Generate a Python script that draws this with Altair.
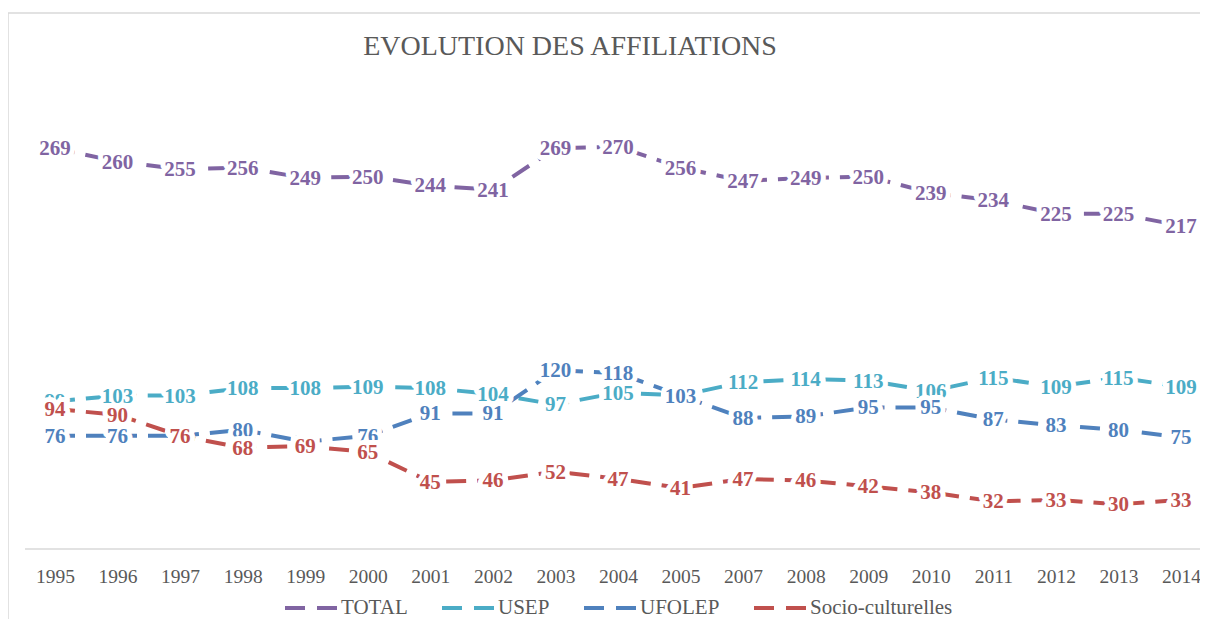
import altair as alt
import pandas as pd

years = ["1995", "1996", "1997", "1998", "1999", "2000", "2001", "2002", "2003", "2004",
         "2005", "2007", "2008", "2009", "2010", "2011", "2012", "2013", "2014"]
total = [269, 260, 255, 256, 249, 250, 244, 241, 269, 270, 256, 247, 249, 250, 239, 234, 225, 225, 217]
usep = [99, 103, 103, 108, 108, 109, 108, 104, 97, 105, 103, 112, 114, 113, 106, 115, 109, 115, 109]
ufolep = [76, 76, 76, 80, 72, 76, 91, 91, 120, 118, 103, 88, 89, 95, 95, 87, 83, 80, 75]
socio = [94, 90, 76, 68, 69, 65, 45, 46, 52, 47, 41, 47, 46, 42, 38, 32, 33, 30, 33]

series_names = ["TOTAL", "USEP", "UFOLEP", "Socio-culturelles"]
series_colors = ["#8064A2", "#4BACC6", "#4F81BD", "#C0504D"]
series_values = [total, usep, ufolep, socio]
title_text = "EVOLUTION DES AFFILIATIONS"

rows = []
for name, vals in zip(series_names, series_values):
    for y, v in zip(years, vals):
        rows.append({"Année": y, "Série": name, "Valeur": v})
df = pd.DataFrame(rows)

W, H = 1175, 447
FONT = "Liberation Serif"

x_enc = alt.X("Année:O", sort=years,
              scale=alt.Scale(type="point", range=[30, 1156], padding=0),
              axis=alt.Axis(title=None, labelAngle=0, ticks=False, domain=False,
                            labelFont=FONT, labelFontSize=19.5, labelColor="#595959",
                            labelPadding=18, grid=False))
y_enc = alt.Y("Valeur:Q", scale=alt.Scale(domain=[0, 300]), axis=None)

base = alt.Chart(df)

deco = pd.DataFrame({"k": [0]})
axis_line = alt.Chart(deco).mark_rule(color="#d9d9d9", strokeWidth=1.5).encode(
    x=alt.value(0), x2=alt.value(W), y=alt.value(H))
top_border = alt.Chart(deco).mark_rule(color="#d9d9d9", strokeWidth=1.5).encode(
    x=alt.value(-17), x2=alt.value(1182), y=alt.value(-89))
left_border = alt.Chart(deco).mark_rule(color="#d9d9d9", strokeWidth=1.5).encode(
    x=alt.value(-17), y=alt.value(-89), y2=alt.value(530))
title = alt.Chart(deco).mark_text(text=title_text, font=FONT, fontSize=28,
                                  color="#595959", baseline="alphabetic",
                                  align="center").encode(
    x=alt.value(545), y=alt.value(-47))

lines = base.mark_line(strokeWidth=4, strokeDash=[20, 11], strokeCap="butt").encode(
    x=x_enc, y=y_enc,
    color=alt.Color("Série:N", sort=series_names,
                    scale=alt.Scale(domain=series_names, range=series_colors),
                    legend=alt.Legend(title=None, orient="none", direction="horizontal",
                                      legendX=258, legendY=477,
                                      symbolType="stroke", symbolSize=2916,
                                      symbolStrokeWidth=4, symbolDash=[20, 12],
                                      labelFont=FONT, labelFontSize=21,
                                      labelColor="#595959", columnPadding=26,
                                      labelOffset=0)),
    detail="Série:N")

layers = [top_border, left_border, axis_line, title, lines]
for name, col in zip(series_names, series_colors):
    sub = base.transform_filter(alt.datum["Série"] == name)
    halo = sub.mark_text(font=FONT, fontSize=21, fontWeight="bold", color="white",
                         stroke="white", strokeWidth=10, strokeJoin="round",
                         baseline="middle", dy=1).encode(
        x=x_enc, y=y_enc, text="Valeur:Q")
    txt = sub.mark_text(font=FONT, fontSize=21, fontWeight="bold", color=col,
                        baseline="middle", dy=1).encode(
        x=x_enc, y=y_enc, text="Valeur:Q")
    layers += [halo, txt]

chart = alt.layer(*layers).properties(
    width=W, height=H,
    background="white",
    autosize=alt.AutoSizeParams(type="none"),
    padding={"left": 17, "top": 94, "right": 0, "bottom": 70},
).configure_view(strokeWidth=0)

chart.save("out.html", embed_options={"renderer": "svg", "actions": False})
